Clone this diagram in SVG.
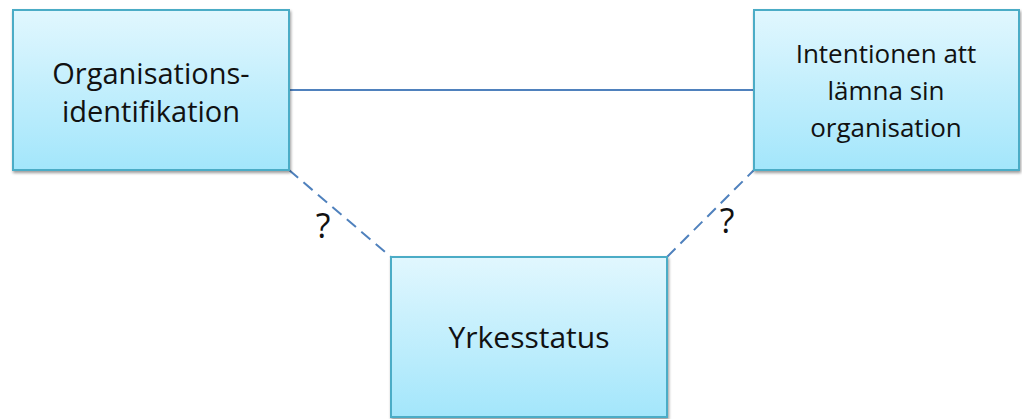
<svg xmlns="http://www.w3.org/2000/svg" width="1022" height="419" viewBox="0 0 1022 419">
  <defs>
    <linearGradient id="boxFill" x1="0" y1="0" x2="0" y2="1">
      <stop offset="0" stop-color="#e1f7fe"/>
      <stop offset="1" stop-color="#a3e6fb"/>
    </linearGradient>
    <filter id="shadow" x="-10%" y="-10%" width="120%" height="120%">
      <feGaussianBlur in="SourceAlpha" stdDeviation="1.5"/>
      <feOffset dx="1" dy="2" result="b"/>
      <feComponentTransfer><feFuncA type="linear" slope="0.4"/></feComponentTransfer>
      <feMerge><feMergeNode/><feMergeNode in="SourceGraphic"/></feMerge>
    </filter>
  </defs>
  <style>
    .box { fill: url(#boxFill); stroke: #4bacc6; stroke-width: 2; filter: url(#shadow); }
    .label { font-family: "Open Sans", "Liberation Sans", sans-serif; fill: #111; text-anchor: middle; }
    .link { stroke: #4f81bd; stroke-width: 2; fill: none; }
    .dash { stroke-dasharray: 12 7; }
  </style>
  <rect width="1022" height="419" fill="#ffffff"/>

  <g id="connectors">
    <line class="link" x1="289" y1="90" x2="754" y2="90"/>
    <line class="link dash" x1="289" y1="170" x2="391" y2="257"/>
    <line class="link dash" x1="667" y1="257" x2="754" y2="170"/>
    <text class="label" x="323" y="238" font-size="34">?</text>
    <text class="label" x="727" y="233" font-size="34">?</text>
  </g>

  <g id="organisationsidentifikation">
    <rect class="box" x="13" y="10" width="276" height="160"/>
    <text class="label" x="151" y="84" font-size="29">Organisations-</text>
    <text class="label" x="151" y="122" font-size="29">identifikation</text>
  </g>

  <g id="intentionen">
    <rect class="box" x="754" y="10" width="265" height="160"/>
    <text class="label" x="886" y="63" font-size="26">Intentionen att</text>
    <text class="label" x="886" y="100" font-size="26">lämna sin</text>
    <text class="label" x="886" y="137" font-size="26">organisation</text>
  </g>

  <g id="yrkesstatus">
    <rect class="box" x="391" y="257" width="276" height="160"/>
    <text class="label" x="529" y="348" font-size="30">Yrkesstatus</text>
  </g>
</svg>
